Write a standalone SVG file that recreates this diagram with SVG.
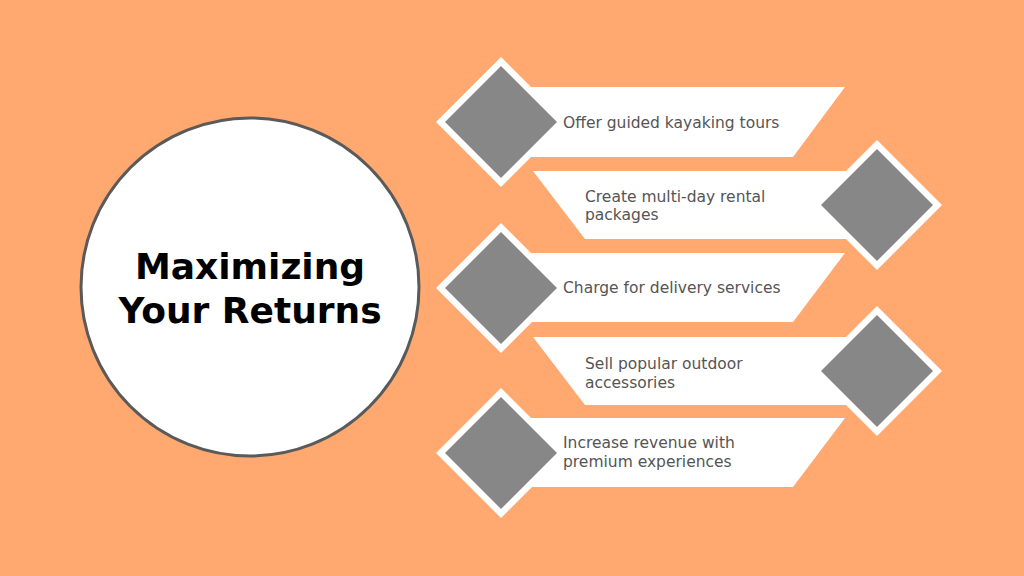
<svg xmlns="http://www.w3.org/2000/svg" width="1024" height="576" viewBox="0 0 1024 576">
<style>
.bg{fill:#FFA970}
.banner{fill:#ffffff}
.dOut{fill:#ffffff}
.dIn{fill:#878787}
.lbl{font-family:"DejaVu Sans","Noto Sans",sans-serif;font-size:15.5px;fill:#555555}
.title{font-family:"DejaVu Sans",sans-serif;font-weight:bold;font-size:36px;fill:#000000;text-anchor:middle}
</style>
<defs>
<g id="dia">
<polygon class="dOut" points="0,-65 65,0 0,65 -65,0"/>
<polygon class="dIn" points="0,-56 56,0 0,56 -56,0"/>
</g>
</defs>
<rect class="bg" x="0" y="0" width="1024" height="576"/>
<g id="center">
<circle cx="250" cy="287" r="169" fill="#ffffff" stroke="#5a5a5a" stroke-width="3"/>
<text class="title" x="250" y="279">Maximizing</text>
<text class="title" x="250" y="323">Your Returns</text>
</g>
<g id="connectors"></g>
<g id="item1">
<polygon class="banner" points="500,87 845,87 793,157 500,157"/>
<use href="#dia" x="501" y="122"/>
<text class="lbl" x="563" y="128">Offer guided kayaking tours</text>
</g>
<g id="item2">
<polygon class="banner" points="533,171 900,171 900,239 585,239"/>
<use href="#dia" x="877" y="205"/>
<text class="lbl" x="585" y="202">Create multi-day rental</text>
<text class="lbl" x="585" y="220">packages</text>
</g>
<g id="item3">
<polygon class="banner" points="500,253 845,253 793,322 500,322"/>
<use href="#dia" x="501" y="288"/>
<text class="lbl" x="563" y="293">Charge for delivery services</text>
</g>
<g id="item4">
<polygon class="banner" points="533,337 900,337 900,405 585,405"/>
<use href="#dia" x="877" y="371"/>
<text class="lbl" x="585" y="369">Sell popular outdoor</text>
<text class="lbl" x="585" y="388">accessories</text>
</g>
<g id="item5">
<polygon class="banner" points="500,418 845,418 793,487 500,487"/>
<use href="#dia" x="501" y="453"/>
<text class="lbl" x="563" y="448">Increase revenue with</text>
<text class="lbl" x="563" y="467">premium experiences</text>
</g>
</svg>
